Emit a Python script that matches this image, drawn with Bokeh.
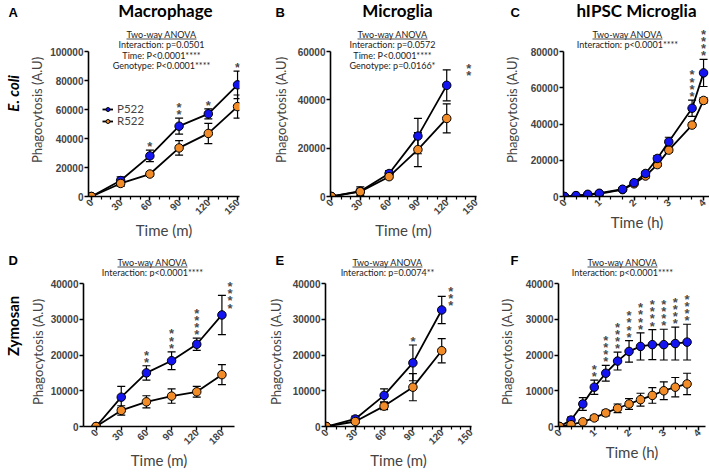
from math import pi
from bokeh.plotting import figure
from bokeh.models import (ColumnDataSource, Whisker, TeeHead, LabelSet, Range1d,
                          FixedTicker, Legend, LegendItem, NumeralTickFormatter)
from bokeh.layouts import column, row
from bokeh.core.properties import value
from bokeh.embed import file_html
from bokeh.resources import INLINE

# ---------------- data ----------------
# A: Macrophage, E. coli
A_time = [0, 30, 60, 90, 120, 150]
A_p522 = [0, 11000, 28000, 48500, 57000, 77000]
A_p522_err = [0, 2500, 4000, 5500, 3500, 9500]
A_r522 = [0, 9000, 15500, 33500, 43500, 62000]
A_r522_err = [0, 2000, 1500, 5000, 7000, 8000]
A_star_idx = [2, 3, 4, 5]
A_stars = ["*", "**", "*", "*"]
A_anova = ["Interaction: p=0.0501", "Time: P<0.0001****", "Genotype: P<0.0001****"]

# B: Microglia, E. coli
B_time = [0, 30, 60, 90, 120]
B_p522 = [0, 2200, 9500, 25000, 46000]
B_p522_err = [0, 1800, 1200, 7300, 6400]
B_r522 = [0, 2000, 8200, 19400, 32300]
B_r522_err = [0, 1000, 800, 7000, 6000]
B_star_idx = [4]
B_stars = ["**"]
B_anova = ["Interaction: p=0.0572", "Time: P<0.0001****", "Genotype: p=0.0166*"]

# C: hIPSC Microglia, E. coli
C_time = [0, 0.33, 0.67, 1, 1.67, 2, 2.33, 2.67, 3, 3.67, 4]
C_p522 = [0, 500, 1200, 1800, 4000, 7600, 12700, 21000, 30200, 48700, 68200]
C_p522_err = [0, 300, 400, 500, 800, 1000, 1200, 1500, 2500, 4500, 7500]
C_r522 = [0, 400, 1000, 1500, 3800, 7000, 11300, 17600, 25600, 39400, 53000]
C_r522_err = [0, 200, 300, 400, 600, 800, 1000, 1000, 1200, 1200, 1500]
C_star_idx = [9, 10]
C_stars = ["****", "****"]
C_anova = ["Interaction: p<0.0001****"]

# D: Macrophage, Zymosan (evenly spaced time points)
D_labels = ["0", "30", "60", "90", "120", "180"]
D_p522 = [0, 8200, 15000, 18400, 23000, 31200]
D_p522_err = [0, 3000, 2000, 2500, 1700, 5500]
D_r522 = [0, 4500, 6900, 8500, 9700, 14500]
D_r522_err = [0, 1300, 1700, 2000, 1500, 2800]
D_star_idx = [2, 3, 4, 5]
D_stars = ["**", "***", "****", "****"]
D_anova = ["Interaction: p<0.0001****"]

# E: Microglia, Zymosan
E_time = [0, 30, 60, 90, 120]
E_p522 = [0, 2100, 8700, 17800, 32600]
E_p522_err = [0, 800, 1800, 5000, 3800]
E_r522 = [0, 1400, 5700, 11000, 21200]
E_r522_err = [0, 500, 1000, 3800, 3400]
E_star_idx = [3, 4]
E_stars = ["*", "***"]
E_anova = ["Interaction: p=0.0074**"]

# F: hIPSC Microglia, Zymosan
F_time = [0, 0.33, 0.67, 1, 1.33, 1.67, 2, 2.33, 2.67, 3, 3.33, 3.67]
F_p522 = [0, 1800, 6300, 11000, 14900, 18300, 21000, 22400, 22900, 22900, 23200, 23600]
F_p522_err = [0, 800, 1800, 2000, 2200, 2500, 3000, 3800, 4200, 4300, 4600, 5000]
F_r522 = [0, 500, 1300, 2400, 3800, 5100, 6300, 7500, 8700, 10000, 11000, 11900]
F_r522_err = [0, 200, 500, 700, 800, 1200, 1500, 1800, 2200, 2500, 2700, 3000]
F_star_idx = [3, 4, 5, 6, 7, 8, 9, 10, 11]
F_stars = ["**", "****", "****", "****", "****", "****", "****", "****", "****"]
F_anova = ["Interaction: p<0.0001****"]

BLUE = "#1414f0"
ORANGE = "#f28c28"
TXT = "#222222"

# ---------------- layout (page pixels) ----------------
STRIP_W = 26
TOTAL_W = 707
# columns: canvas x, left border, frame width, right border, y-label standoff
COLS = [(26, 57, 151, 6, 2), (240, 85, 146, 9, 6), (480, 78, 147, 2, 8)]
# rows: canvas y, frame height, headroom above axis top, bottom border
ROWS = [(23, 173, 28, 45), (277, 149, 6, 45)]
HDR = [(0, 23), (241, 36)]


def blank(x0, y0, w, h):
    p = figure(width=w, height=h, x_range=Range1d(0, w), y_range=Range1d(0, h),
               output_backend="svg", toolbar_location=None, title_location=None,
               x_axis_type=None, y_axis_type=None, min_border=0)
    p.outline_line_color = None
    p.grid.visible = False

    def pt(px, py):
        return px - x0, y0 + h - py
    return p, pt


def put(p, pt, px, py, s, font, size, style="normal", align="center", angle=0.0, color="black"):
    x, y = pt(px, py)
    p.text(x=[x], y=[y], text=[s], angle=angle, text_align=align, text_baseline="middle",
           text_font=value(font), text_font_size=value(size), text_font_style=value(style),
           text_color=color)


def build(ci, ri, xr, ymax, ystep, xticks, xminor, xlabel, overrides=None):
    cx, bl, fw, br, ystand = COLS[ci]
    cy, fh, head, bb = ROWS[ri]
    fx0, fx1 = cx + bl, cx + bl + fw
    fy0, fy1 = cy, cy + fh
    y_end = ymax * fh / (fh - head)
    p = figure(frame_width=fw, frame_height=fh, x_range=Range1d(*xr), y_range=Range1d(0, y_end),
               output_backend="svg", toolbar_location=None, title_location=None,
               min_border_left=bl, min_border_right=br, min_border_top=0, min_border_bottom=bb)
    p.outline_line_color = None
    p.grid.visible = False

    ya = p.yaxis[0]
    ya.bounds = (0, ymax)
    ya.ticker = FixedTicker(ticks=list(range(0, ymax + 1, ystep)))
    ya.formatter = NumeralTickFormatter(format="0")
    ya.axis_label = "Phagocytosis (A.U)"
    ya.axis_label_text_font = "Lato"
    ya.axis_label_text_font_style = "normal"
    ya.axis_label_text_font_size = "13px"
    ya.axis_label_standoff = ystand
    ya.major_label_text_font = "Liberation Sans"
    ya.major_label_text_font_style = "bold"
    ya.major_label_text_font_size = "10px"
    ya.major_label_standoff = 1
    ya.axis_line_width = 1.6
    ya.major_tick_line_width = 1.4
    ya.major_tick_out = 4
    ya.major_tick_in = 0
    ya.minor_tick_line_color = None

    xa = p.xaxis[0]
    xa.ticker = FixedTicker(ticks=xticks, minor_ticks=xminor)
    if overrides:
        xa.major_label_overrides = overrides
    xa.major_label_orientation = pi / 4
    xa.axis_label = xlabel
    xa.axis_label_text_font = "Lato"
    xa.axis_label_text_font_style = "normal"
    xa.axis_label_text_font_size = "15px"
    xa.axis_label_standoff = 0
    xa.major_label_text_font = "Liberation Sans"
    xa.major_label_text_font_style = "bold"
    xa.major_label_text_font_size = "10px"
    xa.major_label_standoff = 0
    xa.axis_line_width = 1.6
    xa.major_tick_line_width = 1.4
    xa.major_tick_out = 4
    xa.major_tick_in = 0
    xa.minor_tick_line_width = 1.2
    xa.minor_tick_out = 3
    xa.minor_tick_in = 0

    def at(px, py):
        return (xr[0] + (px - fx0) / (fx1 - fx0) * (xr[1] - xr[0]),
                (fy1 - py) / (fy1 - fy0) * y_end)
    return p, at


def series(p, t, v, e, color):
    src = ColumnDataSource(dict(t=t, v=v,
                                lo=[a - b for a, b in zip(v, e)],
                                hi=[a + b for a, b in zip(v, e)]))
    p.add_layout(Whisker(base="t", lower="lo", upper="hi", source=src,
                         line_color="black", line_width=1.2,
                         upper_head=TeeHead(size=8, line_color="black", line_width=1.2),
                         lower_head=TeeHead(size=8, line_color="black", line_width=1.2)))
    ln = p.line("t", "v", source=src, line_color="black", line_width=1.8)
    sc = p.scatter("t", "v", source=src, size=8.5, fill_color=color,
                   line_color="black", line_width=1)
    return ln, sc


def stars(p, t, v, e, idx, txt, right=(), right_dx=9):
    up = dict(x=[], y=[], s=[])
    rt = dict(x=[], y=[], s=[])
    for i, s in zip(idx, txt):
        d = rt if i in right else up
        d["x"].append(t[i])
        d["y"].append(v[i] + e[i])
        d["s"].append("\n".join(s))
    common = dict(text_font=value("Liberation Sans"), text_font_style=value("bold"),
                  text_font_size=value("13px"), text_color="#333333", text_alpha=0.9,
                  text_line_height=0.48)
    if up["x"]:
        p.add_layout(LabelSet(x="x", y="y", text="s", source=ColumnDataSource(up),
                              text_align="center", text_baseline="bottom",
                              x_offset=0, y_offset=-4, **common))
    if rt["x"]:
        p.add_layout(LabelSet(x="x", y="y", text="s", source=ColumnDataSource(rt),
                              text_align="center", text_baseline="middle",
                              x_offset=right_dx, y_offset=-2, **common))


def anova(p, conv, cx, y0, lines):
    x, y = conv(cx, y0)
    p.text(x=[x], y=[y], text=["Two-way ANOVA"], text_align="center", text_baseline="middle",
           text_font=value("Lato"), text_font_size=value("9px"), text_color=TXT)
    xa0, yu = conv(cx - 35, y0 + 5)
    xa1, _ = conv(cx + 35, y0 + 5)
    p.segment(x0=[xa0], y0=[yu], x1=[xa1], y1=[yu], line_color=TXT, line_width=0.8)
    for k, s in enumerate(lines):
        x, y = conv(cx, y0 + 10.5 * (k + 1))
        p.text(x=[x], y=[y], text=[s], text_align="center", text_baseline="middle",
               text_font=value("Lato"), text_font_size=value("9px"), text_color=TXT)


MIN_TICKS = list(range(0, 151, 30))
MIN_MINOR = list(range(0, 151, 10))
H_TICKS = [0, 1, 2, 3, 4]
H_MINOR = [i / 3 for i in range(13)]
H_RANGE = (-0.03, 4.2)

# ---- header row 1 ----
h1, pt1 = blank(0, HDR[0][0], TOTAL_W, HDR[0][1])
for px, s in [(8, "A"), (275, "B"), (510, "C")]:
    put(h1, pt1, px, 12, s, "Liberation Sans", "13px", "bold", "left")
for px, s in [(165, "Macrophage"), (397, "Microglia"), (636, "hIPSC Microglia")]:
    put(h1, pt1, px, 10, s, "Lato", "17px", "bold")

# ---- strip row 1 ----
s1, sp1 = blank(0, ROWS[0][0], STRIP_W, ROWS[0][1] + ROWS[0][3])
put(s1, sp1, 12, 111, "E. coli", "Lato", "15px", "bold italic", angle=pi / 2)

# ---- A ----
pA, atA = build(0, 0, (-3, 152), 100000, 20000, MIN_TICKS, MIN_MINOR, "Time (m)")
lA1, sA1 = series(pA, A_time, A_p522, A_p522_err, BLUE)
lA2, sA2 = series(pA, A_time, A_r522, A_r522_err, ORANGE)
stars(pA, A_time, A_p522, A_p522_err, A_star_idx, A_stars)
anova(pA, atA, 156, 33.5, A_anova)
for lab, rends, ypos in [("P522", [lA1, sA1], 81), ("R522", [lA2, sA2], 69)]:
    pA.add_layout(Legend(items=[LegendItem(label=lab, renderers=rends)],
                         location=(14, ypos), background_fill_alpha=0, border_line_color=None,
                         padding=0, margin=0, spacing=0, glyph_width=11, glyph_height=10,
                         label_height=10, label_standoff=4, label_text_font="Lato",
                         label_text_font_size="11.5px"))

# ---- B ----
pB, atB = build(1, 0, (-1, 151), 60000, 20000, MIN_TICKS, MIN_MINOR, "Time (m)")
series(pB, B_time, B_p522, B_p522_err, BLUE)
series(pB, B_time, B_r522, B_r522_err, ORANGE)
stars(pB, B_time, B_p522, B_p522_err, B_star_idx, B_stars, right=(4,), right_dx=22)
anova(pB, atB, 387, 33.5, B_anova)

# ---- C ----
pC, atC = build(2, 0, H_RANGE, 80000, 20000, H_TICKS, H_MINOR, "Time (h)")
series(pC, C_time, C_r522, C_r522_err, ORANGE)
series(pC, C_time, C_p522, C_p522_err, BLUE)
stars(pC, C_time, C_p522, C_p522_err, C_star_idx, C_stars)
anova(pC, atC, 622, 33.5, C_anova)

# ---- header row 2 ----
h2, pt2 = blank(0, HDR[1][0], TOTAL_W, HDR[1][1])
for px, s in [(8, "D"), (275, "E"), (510, "F")]:
    put(h2, pt2, px, 260, s, "Liberation Sans", "13px", "bold", "left")
anova(h2, pt2, 152, 261.5, D_anova)
anova(h2, pt2, 387, 261.5, E_anova)
anova(h2, pt2, 622, 261.5, F_anova)

# ---- strip row 2 ----
s2, sp2 = blank(0, ROWS[1][0], STRIP_W, ROWS[1][1] + ROWS[1][3])
put(s2, sp2, 12, 340, "Zymosan", "Lato", "15px", "bold", angle=pi / 2)

# ---- D ----
D_x = list(range(len(D_labels)))
pD, atD = build(0, 1, (-0.5, 5.5), 40000, 10000, D_x, [], "Time (m)",
                overrides={i: s for i, s in zip(D_x, D_labels)})
series(pD, D_x, D_p522, D_p522_err, BLUE)
series(pD, D_x, D_r522, D_r522_err, ORANGE)
stars(pD, D_x, D_p522, D_p522_err, D_star_idx, D_stars, right=(5,), right_dx=8)

# ---- E ----
pE, atE = build(1, 1, (-1, 151), 40000, 10000, MIN_TICKS, MIN_MINOR, "Time (m)")
series(pE, E_time, E_p522, E_p522_err, BLUE)
series(pE, E_time, E_r522, E_r522_err, ORANGE)
stars(pE, E_time, E_p522, E_p522_err, E_star_idx, E_stars, right=(4,), right_dx=9)

# ---- F ----
pF, atF = build(2, 1, H_RANGE, 40000, 10000, H_TICKS, H_MINOR, "Time (h)")
series(pF, F_time, F_p522, F_p522_err, BLUE)
series(pF, F_time, F_r522, F_r522_err, ORANGE)
stars(pF, F_time, F_p522, F_p522_err, F_star_idx, F_stars)

layout = column(h1, row(s1, pA, pB, pC, spacing=0), h2, row(s2, pD, pE, pF, spacing=0),
                spacing=0)
open("out.html", "w").write(file_html(layout, INLINE))
